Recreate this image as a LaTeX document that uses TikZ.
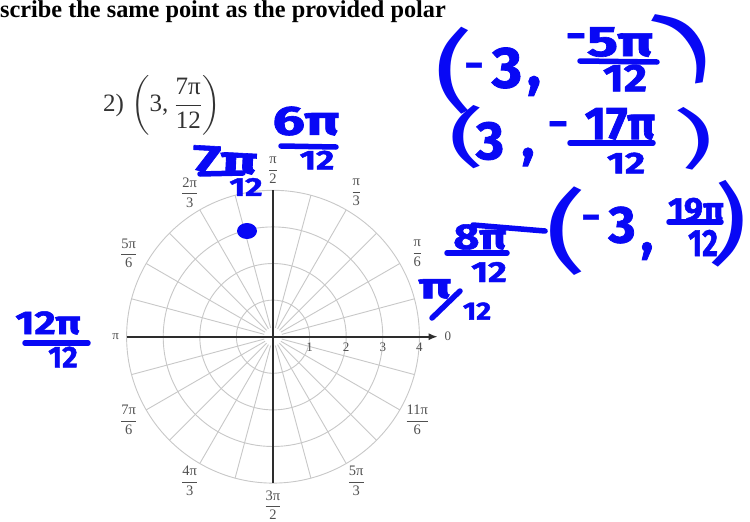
\documentclass[tikz,border=0pt]{standalone}
\usepackage{fontspec}
\usepackage{amsmath}
\usepackage{graphicx}
\setmainfont{Liberation Serif}
\newfontfamily\hand{Fira Sans}[BoldFeatures={FakeBold=1.5}]
\usetikzlibrary{arrows.meta}
\definecolor{ink}{RGB}{8,8,245}
\definecolor{gridgray}{RGB}{200,200,200}
\definecolor{axisgray}{RGB}{45,45,45}
\definecolor{lblgray}{RGB}{80,80,80}
\newcommand\fs[1]{\fontsize{#1}{#1}\selectfont}
\newcommand\lfr[2]{$\dfrac{\text{#1}}{\text{#2}}$}
\newcommand\bigp[4]{\scalebox{#1}[#2]{\hand\fs{#3}#4}}
\newcommand\sx[2]{\scalebox{#1}[1]{#2}}
\begin{document}
\begin{tikzpicture}[x=1pt,y=-1pt,
  gridline/.style={draw=gridgray,line width=0.9pt},
  axisline/.style={draw=axisgray,line width=1.7pt},
  lab/.style={text=lblgray,inner sep=0pt,font=\fs{14.5}},
  ticklab/.style={text=lblgray,inner sep=0pt,font=\fs{13}},
  inkf/.style={text=ink,inner sep=0pt,font=\hand\bfseries\fs{#1}},
  inkp/.style={text=ink,inner sep=0pt},
  stroke/.style={draw=ink,line width=5.5pt,line cap=round}]
\useasboundingbox (0,0) rectangle (750,522);
\fill[white] (0,0) rectangle (750,522);
% heading
\node[anchor=base west,inner sep=0pt,font=\bfseries\fs{24.3}] (title) at (0,17.5) {scribe the same point as the provided polar};
\node[anchor=base west,inner sep=0pt,font=\fs{25},text=black!80] (num) at (103,111.7) {2)};
\node[anchor=base west,inner sep=0pt,font=\fs{25},text=black!80] (given) at (131,111.7) {$\left(\text{3, }\dfrac{\text{7π}}{\text{12}}\right)$};
% polar grid
\begin{scope}[shift={(273,336.7)},x=36.6pt,y=36.6pt]
  \foreach \r in {1,2,3,4} \draw[gridline] (0,0) circle (\r);
  \foreach \a in {0,15,...,345} \draw[gridline] (\a:0.25) -- (\a:4);
  \draw[axisline,-{Latex[length=9pt,width=7pt]}] (-4,0) -- (4.5,0);
  \draw[axisline] (0,-4) -- (0,4);
  \foreach \k in {1,2,3,4} \node[ticklab] (t\k) at (\k,-0.29) {\k};
  \node[ticklab] (l0) at (4.78,0) {0};
  \node[ticklab] (lpi) at (-4.3,0) {π};
  \node[lab] (a30) at (30:4.55) {\lfr{π}{6}};
  \node[lab] (a60) at (60:4.55) {\lfr{π}{3}};
  \node[lab] (a90) at (90:4.55) {\lfr{π}{2}};
  \node[lab] (a120) at (120:4.55) {\lfr{2π}{3}};
  \node[lab] (a150) at (150:4.55) {\lfr{5π}{6}};
  \node[lab] (a210) at (210:4.55) {\lfr{7π}{6}};
  \node[lab] (a240) at (240:4.55) {\lfr{4π}{3}};
  \node[lab] (a270) at (270:4.6) {\lfr{3π}{2}};
  \node[lab] (a300) at (300:4.55) {\lfr{5π}{3}};
  \node[lab] (a330) at (330:4.55) {\lfr{11π}{6}};
\end{scope}
% ink: (-3, -5pi/12)
\node[inkp] (pa1) at (454,71) {\bigp{1.5}{1.1}{80}{(}};
\node[inkf=36] (ma) at (474,70) {−};
\node[inkf=58] (ta) at (507,68) {3};
\node[inkf=58] (ca) at (534,86) {,};
\node[inkf=38] (mb) at (576,41) {−};
\node[inkf=43] (na) at (620,42) {\sx{1.35}{5π}};
\draw[stroke] (580,61) -- (657,62);
\node[inkf=39] (da) at (625,78) {\sx{1.15}{12}};
\node[inkp,rotate=35] (pa2) at (686,44) {\bigp{1.5}{1.05}{80}{)}};
% ink: (3, -17pi/12)
\node[inkp] (pb1) at (467,137) {\bigp{1.4}{0.8}{80}{(}};
\node[inkf=54] (tb) at (490,141) {3};
\node[inkf=54] (cb) at (528,157) {,};
\node[inkf=38] (mc) at (558,129) {−};
\node[inkf=46] (nb) at (620,124) {17π};
\draw[stroke] (570,143) -- (653,143);
\node[inkf=30] (db) at (626,163) {\sx{1.3}{12}};
\node[inkp,rotate=8] (pb2) at (695,138) {\bigp{1.4}{0.8}{80}{)}};
% ink: (-3, 19pi/12)
\node[inkp] (pc1) at (566,231) {\bigp{1.6}{1.12}{80}{(}};
\node[inkf=36] (md) at (591,222) {−};
\node[inkf=52] (tc) at (622,225) {3};
\node[inkf=52] (cc) at (647,251) {,};
\node[inkf=34] (nc) at (696,210) {19π};
\draw[stroke] (669,222) -- (721,222);
\node[inkf=38] (dc) at (703,243) {\sx{0.8}{12}};
\node[inkp,rotate=-5] (pc2) at (729,224) {\bigp{1.4}{1.1}{80}{)}};
% ink: 8pi/12 linked to the point
\node[inkf=36] (nd) at (480,237) {\sx{1.25}{8π}};
\coordinate (dl) at (473,225);
\draw[stroke] (dl) -- (pc1.west);
\draw[stroke] (447,253) -- (507,253);
\node[inkf=29] (dd) at (489,272) {\sx{1.25}{12}};
% ink: pi/12
\node[inkf=36] (ne) at (435,289) {\sx{1.5}{π}};
\draw[stroke] (432,318) -- (460,291);
\node[inkf=25] (de) at (477,311) {\sx{1.15}{12}};
% ink: 12pi/12
\node[inkf=33] (nf) at (48,323) {\sx{1.25}{12π}};
\draw[stroke] (25,343) -- (88,343);
\node[inkf=30] (df) at (63,357) {12};
% ink: 7pi/12
\node[inkf=38,rotate=-3] (ng) at (225,160) {\sx{1.6}{7π}};
\draw[stroke] (200,174) -- (243,173);
\node[inkf=26] (dg) at (246,187) {\sx{1.3}{12}};
% ink: 6pi/12
\node[inkf=41] (nh) at (306,121) {\sx{1.4}{6π}};
\draw[stroke] (281,146) -- (336,147);
\node[inkf=27] (dh) at (317,160) {\sx{1.3}{12}};
% ink: plotted point
\fill[ink] (247,231) ellipse (10 and 8);
\end{tikzpicture}
\end{document}
